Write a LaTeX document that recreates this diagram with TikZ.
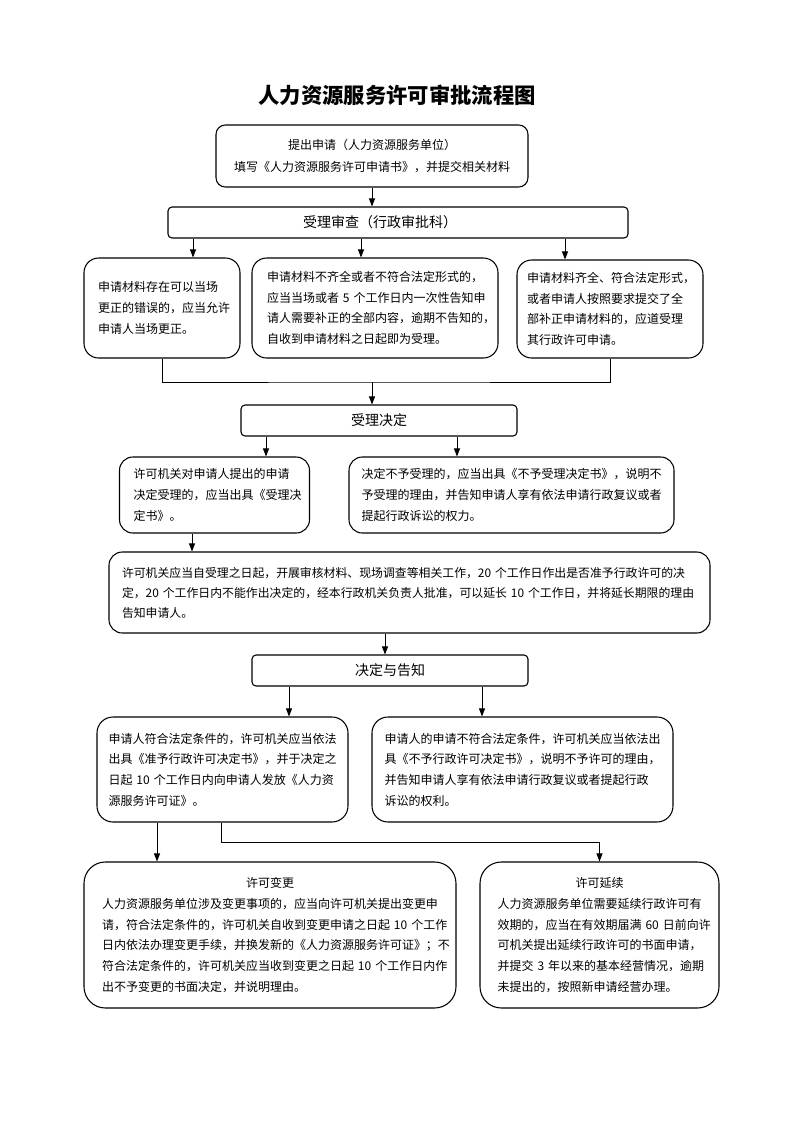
\documentclass[tikz,border=0pt]{standalone}
\usepackage{fontspec}
\setmainfont{Noto Sans CJK SC}
\usetikzlibrary{arrows.meta}
\begin{document}
\begin{tikzpicture}[x=0.75pt, y=-0.75pt, line width=0.7pt, >={Triangle[length=6pt, width=4.5pt]}]
      \tikzstyle{every node}=[draw, line width=0.8pt, inner sep=0pt, font=\fontsize{9}{15.5}\selectfont]
      \tikzstyle{head}=[rounded corners=3pt, minimum height=23.25pt, font=\fontsize{10.5}{12}\selectfont]
      \tikzstyle{txt}=[align=left]
      \useasboundingbox (0, 0) rectangle (793, 1122);

      \path (397, 95) node[draw=none, font=\fontsize{16}{18}\selectfont\bfseries] (title) {人力资源服务许可审批流程图};

      \path (372, 156) node[rounded corners=7pt, minimum width=234pt, minimum height=46.5pt, align=center,
        font=\fontsize{9}{16.5}\selectfont] (b1)
        {提出申请（人力资源服务单位）\\填写《人力资源服务许可申请书》，并提交相关材料};
      \path (398, 222.5) node[head, minimum width=345pt] (b2) {受理审查（行政审批科）\hspace*{27pt}};

      \path (162, 308) node[txt, rounded corners=11pt, minimum width=117pt, minimum height=75pt, text width=96pt] (b3a)
        {申请材料存在可以当场\\更正的错误的，应当允许\\申请人当场更正。};
      \path (375, 308) node[txt, rounded corners=11pt, minimum width=184.5pt, minimum height=75pt, text width=162pt] (b3b)
        {申请材料不齐全或者不符合法定形式的，\\应当当场或者~5~个工作日内一次性告知申\\请人需要补正的全部内容，逾期不告知的，\\自收到申请材料之日起即为受理。};
      \path (610, 309) node[txt, rounded corners=11pt, minimum width=139.5pt, minimum height=73.5pt, text width=124.5pt] (b3c)
        {申请材料齐全、符合法定形式，\\或者申请人按照要求提交了全\\部补正申请材料的，应道受理\\其行政许可申请。};
      \coordinate (j1) at (372, 382);

      \path (379, 420.5) node[head, minimum width=207pt] (b4) {受理决定};

      \path (214.5, 495) node[txt, rounded corners=10pt, minimum width=142.5pt, minimum height=57pt, text width=121.5pt] (b5a)
        {许可机关对申请人提出的申请\\决定受理的，应当出具《受理决\\定书》。};
      \path (511.5, 495) node[txt, rounded corners=10pt, minimum width=243.75pt, minimum height=57pt, text width=225pt] (b5b)
        {决定不予受理的，应当出具《不予受理决定书》，说明不\\予受理的理由，并告知申请人享有依法申请行政复议或者\\提起行政诉讼的权力。};

      \path (409.5, 592.5) node[txt, rounded corners=10pt, minimum width=450.75pt, minimum height=60.75pt, text width=431.25pt,
        font=\fontsize{8.9}{15}\selectfont] (b6)
        {许可机关应当自受理之日起，开展审核材料、现场调查等相关工作，20~个工作日作出是否准予行政许可的决\\定，20~个工作日内不能作出决定的，经本行政机关负责人批准，可以延长~10~个工作日，并将延长期限的理由\\告知申请人。};

      \path (390, 670.5) node[head, minimum width=207pt] (b7) {决定与告知};

      \path (222.5, 769.5) node[txt, rounded corners=12pt, minimum width=188.25pt, minimum height=78.75pt, text width=171pt] (b8a)
        {申请人符合法定条件的，许可机关应当依法\\出具《准予行政许可决定书》，并于决定之\\日起~10~个工作日内向申请人发放《人力资\\源服务许可证》。};
      \path (522.5, 769.5) node[txt, rounded corners=12pt, minimum width=225.75pt, minimum height=78.75pt, text width=207pt] (b8b)
        {申请人的申请不符合法定条件，许可机关应当依法出\\具《不予行政许可决定书》，说明不予许可的理由，\\并告知申请人享有依法申请行政复议或者提起行政\\诉讼的权利。};
      \coordinate (j2) at (221, 842);

      \path (270, 935) node[txt, rounded corners=16pt, minimum width=279pt, minimum height=109.5pt, text width=252pt] (b9a)
        {\hbox to\hsize{\hss 许可变更\hss}\\人力资源服务单位涉及变更事项的，应当向许可机关提出变更申\\请，符合法定条件的，许可机关自收到变更申请之日起~10~个工作\\日内依法办理变更手续，并换发新的《人力资源服务许可证》；不\\符合法定条件的，许可机关应当收到变更之日起~10~个工作日内作\\出不予变更的书面决定，并说明理由。};
      \path (599.5, 935) node[txt, rounded corners=16pt, minimum width=179.25pt, minimum height=109.5pt, text width=153pt] (b9b)
        {\hbox to\hsize{\hss 许可延续\hss}\\人力资源服务单位需要延续行政许可有\\效期的，应当在有效期届满~60~日前向许\\可机关提出延续行政许可的书面申请，\\并提交~3~年以来的基本经营情况，逾期\\未提出的，按照新申请经营办理。};

      \draw[->] (b1.south) -- (b1.south |- b2.north);
      \foreach \x/\b in {193/b3a, 361/b3b, 565/b3c}
      {
        \draw[->] (b2.south -| \x,0) -- (\b.north -| \x,0);
      }
      \draw (b3a.south) |- (j1) -| (b3c.south);
      \draw[->] (j1) -- (j1 |- b4.north);
      \foreach \x/\b in {266/b5a, 457/b5b}
      {
        \draw[->] (b4.south -| \x,0) -- (\b.north -| \x,0);
      }
      \draw[->] (b5a.south -| 192,0) -- (b6.north -| 192,0);
      \draw[->] (b6.south -| 385,0) -- (b7.north -| 385,0);
      \foreach \x/\b in {289/b8a, 482/b8b}
      {
        \draw[->] (b7.south -| \x,0) -- (\b.north -| \x,0);
      }
      \draw[->] (b8a.south -| 157,0) -- (b9a.north -| 157,0);
      \draw[->] (b8a.south -| j2) -- (j2) -| (b9b.north);
    \end{tikzpicture}
\end{document}
